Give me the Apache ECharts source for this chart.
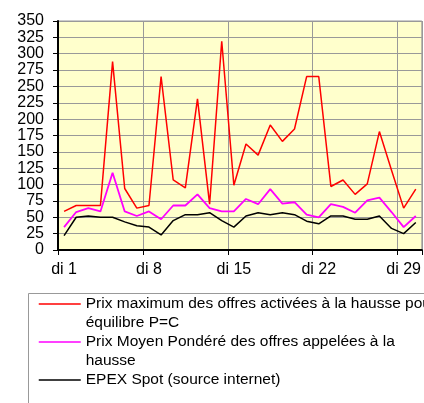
<!DOCTYPE html>
<html>
<head>
<meta charset="utf-8">
<script src="https://cdn.jsdelivr.net/npm/echarts@6/dist/echarts.min.js"></script>
<style>
html, body { margin: 0; padding: 0; background: #fff; }
#main1 { width: 424px; height: 403px; }
</style>
</head>
<body>
<div id="main1"></div>
<script>
var jours = ['di 1','lu 2','ma 3','me 4','je 5','ve 6','sa 7',
    'di 8','lu 9','ma 10','me 11','je 12','ve 13','sa 14',
    'di 15','lu 16','ma 17','me 18','je 19','ve 20','sa 21',
    'di 22','lu 23','ma 24','me 25','je 26','ve 27','sa 28',
    'di 29','lu 30'];

var prixMax = [59, 68, 68, 68, 288, 94, 64, 68, 265, 107,
    95, 231, 70, 319, 99, 162, 145, 191, 166, 185,
    265, 265, 97, 107, 85, 101, 181, 122, 64, 93];

var prixMoyen = [35, 58, 64, 59, 118, 59, 52, 59, 47, 68,
    68, 85, 64, 59, 59, 78, 70, 93, 71, 73,
    54, 50, 70, 66, 57, 76, 80, 58, 35, 52];

var epexSpot = [22, 50, 52, 50, 50, 43, 37, 35, 23, 45,
    54, 54, 57, 45, 35, 52, 57, 54, 57, 54,
    44, 40, 52, 52, 47, 47, 52, 33, 25, 42];

var nomsSeries = [
    'Prix maximum des offres activées à la hausse pour équilibre P=C',
    'Prix Moyen Pondéré des offres appelées à la hausse',
    'EPEX Spot (source internet)'
];
var couleurs = ['#ff0000', '#ff00ff', '#000000'];
// une ligne vide devant pour que la 1re ligne soit au niveau du trait
var textesLegende = {};
textesLegende[nomsSeries[0]] = '\nPrix maximum des offres activées à la hausse pour\néquilibre P=C';
textesLegende[nomsSeries[1]] = '\nPrix Moyen Pondéré des offres appelées à la\nhausse';
textesLegende[nomsSeries[2]] = '\nEPEX Spot (source internet)\n';

var police = 'Liberation Sans, Arial, sans-serif';

function tousLes7(index) {
    return index % 7 === 0;
}

var myChart = echarts.init(document.getElementById('main1'), null, {renderer: 'canvas'});

var option = {
    animation: false,
    backgroundColor: '#ffffff',
    grid: {
        left: 58,
        right: 2,
        top: 21,
        bottom: 153,
        show: true,
        backgroundColor: '#ffffcc',
        borderColor: '#999999',
        borderWidth: 1
    },
    graphic: [
        {
            type: 'rect',
            shape: {x: 28.5, y: 293.5, width: 420, height: 200},
            style: {fill: 'none', stroke: '#999999', lineWidth: 1},
            silent: true
        }
    ],
    legend: {
        orient: 'vertical',
        left: 38,
        top: 275.5,
        height: 400,
        padding: 0,
        itemWidth: 42,
        itemHeight: 14,
        itemGap: -19,
        icon: 'line',
        data: nomsSeries.map(function (nom, i) {
            return {
                name: nom,
                itemStyle: {color: couleurs[i], borderColor: couleurs[i], borderWidth: 1.5}
            };
        }),
        formatter: function (name) {
            return textesLegende[name];
        },
        textStyle: {
            color: '#000',
            fontFamily: police,
            fontSize: 15.5,
            lineHeight: 19
        }
    },
    xAxis: {
        type: 'category',
        boundaryGap: true,
        data: jours,
        axisLine: {lineStyle: {color: '#000', width: 2}},
        axisTick: {show: true, interval: tousLes7, length: 5, lineStyle: {color: '#000'}},
        axisLabel: {
            interval: tousLes7,
            color: '#000',
            fontFamily: police,
            fontSize: 16,
            margin: 12
        },
        splitLine: {show: true, interval: tousLes7, lineStyle: {color: '#999999', width: 1}}
    },
    yAxis: {
        type: 'value',
        min: 0,
        max: 350,
        interval: 25,
        axisLine: {show: true, lineStyle: {color: '#000', width: 2}},
        axisTick: {show: true, length: 5, lineStyle: {color: '#000'}},
        axisLabel: {
            color: '#000',
            fontFamily: police,
            fontSize: 16,
            margin: 14
        },
        splitLine: {lineStyle: {color: '#999999', width: 1}}
    },
    series: [
        {
            name: nomsSeries[0],
            type: 'line',
            symbol: 'none',
            data: prixMax,
            itemStyle: {color: couleurs[0]},
            lineStyle: {color: couleurs[0], width: 1.5}
        },
        {
            name: nomsSeries[1],
            type: 'line',
            symbol: 'none',
            data: prixMoyen,
            itemStyle: {color: couleurs[1]},
            lineStyle: {color: couleurs[1], width: 1.8}
        },
        {
            name: nomsSeries[2],
            type: 'line',
            symbol: 'none',
            data: epexSpot,
            itemStyle: {color: couleurs[2]},
            lineStyle: {color: couleurs[2], width: 1.5}
        }
    ]
};

myChart.setOption(option);
</script>
</body>
</html>
